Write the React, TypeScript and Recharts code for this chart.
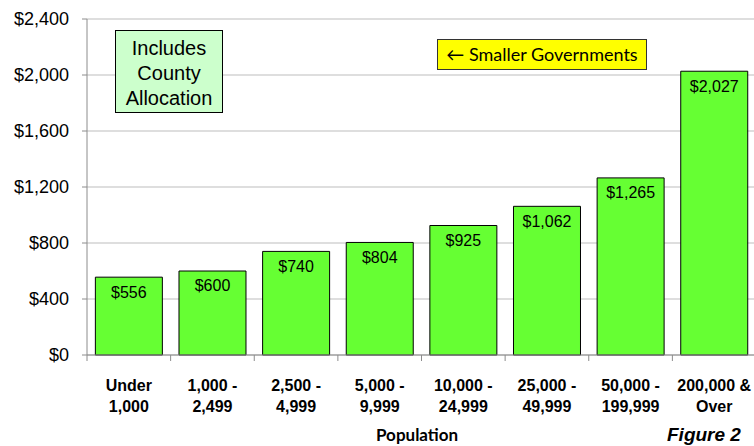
import { BarChart, Bar, XAxis, YAxis, CartesianGrid, LabelList } from "recharts"

// population groups, two lines each as in the original figure
const categories = [
  "Under\n1,000",
  "1,000 -\n2,499",
  "2,500 -\n4,999",
  "5,000 -\n9,999",
  "10,000 -\n24,999",
  "25,000 -\n49,999",
  "50,000 -\n199,999",
  "200,000 &\nOver",
]
const perCapita = [556, 600, 740, 804, 925, 1062, 1265, 2027]
const yTicks = [0, 400, 800, 1200, 1600, 2000, 2400]

const data = categories.map((name, i) => ({ name, value: perCapita[i] }))

const W = 756
const H = 446
const LEFT = 87
const BOTTOM = 355
const BAND = (W - LEFT) / categories.length

const ARIAL = "Arial, 'Liberation Sans', sans-serif"
const CALIBRI = "Lato, 'Open Sans', sans-serif"

function money(v: number): string {
  return "$" + v.toLocaleString("en-US")
}

// excel-style axis: tick marks sit between categories, not under them
function CategoryTick(props: any) {
  const { x, payload, index } = props
  const lines = String(payload.value).split("\n")
  return (
    <g>
      <line x1={x - BAND / 2} x2={x - BAND / 2} y1={BOTTOM} y2={BOTTOM + 6} stroke="#8c8c8c" />
      {index === categories.length - 1 && (
        <line x1={x + BAND / 2} x2={x + BAND / 2} y1={BOTTOM} y2={BOTTOM + 6} stroke="#8c8c8c" />
      )}
      <text textAnchor="middle" fontFamily={ARIAL} fontWeight="bold" fontSize={16} fill="#000">
        {lines.map((l, i) => (
          <tspan key={i} x={x} y={391 + i * 21}>
            {l}
          </tspan>
        ))}
      </text>
    </g>
  )
}

export default function App() {
  return (
    <div
      style={{
        position: "absolute",
        left: 0,
        top: 0,
        width: 754,
        height: 446,
        overflow: "hidden",
        background: "#fff",
      }}
    >
      <BarChart
        width={W}
        height={H}
        data={data}
        margin={{ top: 19, right: 0, left: 0, bottom: 0 }}
        barCategoryGap="10%"
      >
        <CartesianGrid vertical={false} stroke="#bdbdbd" />
        <XAxis
          dataKey="name"
          height={H - BOTTOM}
          interval={0}
          tickLine={false}
          stroke="#8c8c8c"
          tick={<CategoryTick />}
        />
        <YAxis
          width={LEFT}
          domain={[0, 2400]}
          ticks={yTicks}
          tickFormatter={money}
          tickSize={5}
          tickMargin={13}
          stroke="#8c8c8c"
          tick={{ fill: "#000", fontSize: 18, fontFamily: ARIAL }}
        />
        <Bar dataKey="value" fill="#66ff33" stroke="#000" strokeWidth={1} isAnimationActive={false}>
          <LabelList
            dataKey="value"
            position="insideTop"
            offset={9}
            formatter={(v: any) => money(Number(v))}
            style={{ fill: "#000", fontSize: 16, fontFamily: ARIAL }}
          />
        </Bar>
      </BarChart>

      <div
        style={{
          position: "absolute",
          left: 115,
          top: 30,
          width: 108,
          height: 83,
          background: "#ccffcc",
          border: "1px solid #000",
          fontFamily: ARIAL,
          fontSize: 20,
          lineHeight: "25px",
          textAlign: "center",
          paddingTop: 5,
          boxSizing: "border-box",
        }}
      >
        Includes
        <br />
        County
        <br />
        Allocation
      </div>

      <div
        style={{
          position: "absolute",
          left: 437,
          top: 39,
          width: 210,
          height: 31,
          background: "#ffff00",
          border: "1px solid #333",
          boxSizing: "border-box",
          fontFamily: CALIBRI,
          fontSize: 18,
          lineHeight: "29px",
          textAlign: "center",
          whiteSpace: "nowrap",
        }}
      >
        ← Smaller Governments
      </div>

      <div
        style={{
          position: "absolute",
          left: 376,
          top: 425,
          fontFamily: CALIBRI,
          fontWeight: "bold",
          fontSize: 17,
          lineHeight: "20px",
        }}
      >
        Population
      </div>

      <div
        style={{
          position: "absolute",
          left: 667,
          top: 424,
          fontFamily: ARIAL,
          fontWeight: "bold",
          fontStyle: "italic",
          fontSize: 19,
          lineHeight: "22px",
          whiteSpace: "nowrap",
        }}
      >
        Figure 2
      </div>
    </div>
  )
}
